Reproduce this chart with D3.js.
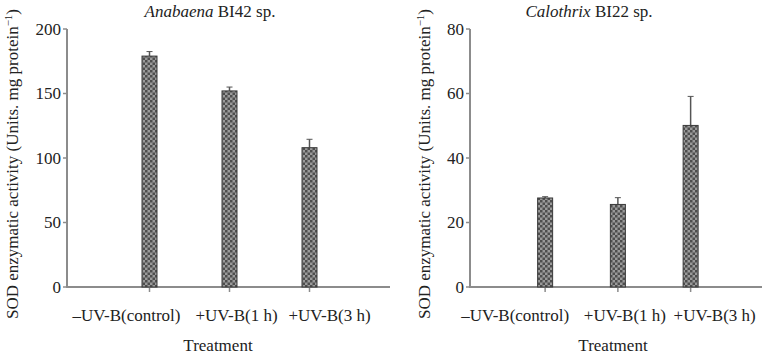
<!DOCTYPE html>
<html><head><meta charset="utf-8">
<script src="https://cdn.jsdelivr.net/npm/d3@7/dist/d3.min.js"></script>
<style>body{margin:0;background:#fff}svg{display:block}text{font-family:"Liberation Serif","Times New Roman",serif;fill:#222}</style>
</head><body><svg id="c" width="762" height="354"></svg>
<script>
const categories = ["\u2013UV-B(control)", "+UV-B(1 h)", "+UV-B(3 h)"];
const anabaenaValues = [179, 152, 108];
const anabaenaErrors = [3.5, 3, 6.5];
const calothrixValues = [27.6, 25.6, 50.1];
const calothrixErrors = [0.4, 2.1, 9];
const anabaenaTicks = [0, 50, 100, 150, 200];
const calothrixTicks = [0, 20, 40, 60, 80];

const svg = d3.select("#c");
const defs = svg.append("defs");
const pat = defs.append("pattern").attr("id","chk").attr("patternUnits","userSpaceOnUse")
  .attr("width",5).attr("height",5);
pat.append("rect").attr("width",5).attr("height",5).attr("fill","#9a9a9a");
pat.append("rect").attr("width",2.5).attr("height",2.5).attr("fill","#4e4e4e");
pat.append("rect").attr("x",2.5).attr("y",2.5).attr("width",2.5).attr("height",2.5).attr("fill","#4e4e4e");

const FS = 17;
function panel(cfg){
  const g = svg.append("g");
  const y = d3.scaleLinear().domain([0, cfg.max]).range([287, 29]);
  const x = d3.scaleBand().domain(["_"].concat(categories)).range(cfg.band).paddingInner(0).paddingOuter(0);
  const bw = 15;
  // axes lines
  g.append("line").attr("x1",cfg.ax).attr("x2",cfg.ax).attr("y1",y(cfg.max)).attr("y2",y(0))
    .attr("stroke","#8c8c8c").attr("stroke-width",2);
  g.append("line").attr("x1",cfg.ax-1).attr("x2",cfg.axEnd).attr("y1",y(0)).attr("y2",y(0))
    .attr("stroke","#8c8c8c").attr("stroke-width",2);
  // y ticks
  g.selectAll(".yt").data(cfg.ticks).join("line").attr("x1",cfg.ax-4).attr("x2",cfg.ax)
    .attr("y1",d=>y(d)).attr("y2",d=>y(d)).attr("stroke","#8c8c8c").attr("stroke-width",1.5);
  g.selectAll(".yl").data(cfg.ticks).join("text").attr("x",cfg.ax-6).attr("y",d=>y(d))
    .attr("dy","0.35em").attr("text-anchor","end").attr("font-size",FS).text(d=>d);
  // x ticks
  g.selectAll(".xt").data(categories).join("line")
    .attr("x1",d=>x(d)+x.bandwidth()/2).attr("x2",d=>x(d)+x.bandwidth()/2)
    .attr("y1",y(0)).attr("y2",y(0)+5).attr("stroke","#8c8c8c").attr("stroke-width",1.5);
  // error bars
  g.selectAll(".eb").data(categories).join("line")
    .attr("x1",d=>x(d)+x.bandwidth()/2).attr("x2",d=>x(d)+x.bandwidth()/2)
    .attr("y1",(d,i)=>y(cfg.values[i])).attr("y2",(d,i)=>y(cfg.values[i]+cfg.errors[i]))
    .attr("stroke","#555").attr("stroke-width",1.5);
  g.selectAll(".ec").data(categories).join("line")
    .attr("x1",d=>x(d)+x.bandwidth()/2-3).attr("x2",d=>x(d)+x.bandwidth()/2+3)
    .attr("y1",(d,i)=>y(cfg.values[i]+cfg.errors[i])).attr("y2",(d,i)=>y(cfg.values[i]+cfg.errors[i]))
    .attr("stroke","#555").attr("stroke-width",1);
  // bars
  g.selectAll(".bar").data(categories).join("rect")
    .attr("x",d=>x(d)+x.bandwidth()/2-bw/2).attr("width",bw)
    .attr("y",(d,i)=>y(cfg.values[i])).attr("height",(d,i)=>y(0)-y(cfg.values[i]))
    .attr("fill","url(#chk)").attr("stroke","#3a3a3a").attr("stroke-width",1);
  // x labels
  g.selectAll(".xl").data(categories).join("text")
    .attr("x",(d,i)=>x(d)+x.bandwidth()/2+cfg.dx[i]).attr("y",315).attr("dy","0.35em")
    .attr("text-anchor","middle").attr("font-size",FS).text(d=>d);
  // title
  const t = g.append("text").attr("x",cfg.titleX).attr("y",11).attr("dy","0.35em")
    .attr("text-anchor","middle").attr("font-size",FS);
  t.append("tspan").attr("font-style","italic").text(cfg.genus);
  t.append("tspan").text(cfg.rest);
  // x axis title
  g.append("text").attr("x",cfg.xtX).attr("y",345).attr("dy","0.35em")
    .attr("text-anchor","middle").attr("font-size",FS).text("Treatment");
  // y axis title
  const yt = g.append("text").attr("transform",`translate(${cfg.ytX},164) rotate(-90)`)
    .attr("dy","0.35em").attr("text-anchor","middle").attr("font-size",FS);
  yt.append("tspan").text("SOD enzymatic activity (Units. mg protein");
  yt.append("tspan").attr("baseline-shift","super").attr("font-size",11).text("\u22121");
  yt.append("tspan").text(")");
}
panel({max:200, ticks:anabaenaTicks, values:anabaenaValues, errors:anabaenaErrors,
  ax:67, axEnd:390, band:[29.5,349.5], dx:[-23,7,20], titleX:210, genus:"Anabaena", rest:" BI42 sp.",
  xtX:218, ytX:12});
panel({max:80, ticks:calothrixTicks, values:calothrixValues, errors:calothrixErrors,
  ax:470, axEnd:762, band:[436,727], dx:[-30,7,24], titleX:589, genus:"Calothrix", rest:" BI22 sp.",
  xtX:613, ytX:424});
</script></body></html>
